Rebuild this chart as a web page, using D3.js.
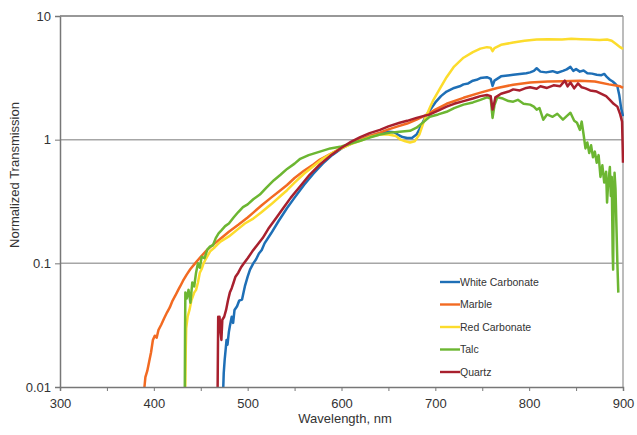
<!DOCTYPE html>
<html>
<head>
<meta charset="utf-8">
<script src="https://cdn.jsdelivr.net/npm/d3@7/dist/d3.min.js"></script>
<style>
  html, body { margin: 0; padding: 0; background: #fff; }
  svg { display: block; font-family: "Liberation Sans", Arial, sans-serif; }
</style>
</head>
<body>
<svg id="chart" width="637" height="435"></svg>
<script>
// ---------------- DATA ----------------
const seriesNames = ["White Carbonate", "Marble", "Red Carbonate", "Talc", "Quartz"];
const xTicks = [300, 400, 500, 600, 700, 800, 900];
const yTicks = [0.01, 0.1, 1, 10];
const yTickLabels = ["0.01", "0.1", "1", "10"];
const xTitle = "Wavelength, nm";
const yTitle = "Normalized Transmission";

// [wavelength nm, normalized transmission]
const whiteCarbonate = [
  [474,0.01],[474.5,0.013],[475.5,0.0166],[476.5,0.02],[477.5,0.024],[478.5,0.022],[480,0.028],[481,0.031],
  [483,0.037],[484.5,0.033],[486,0.042],[488.7,0.045],[491,0.05],[494,0.051],[496,0.06],[497,0.065],
  [500,0.078],[502.5,0.089],[506,0.1],[509,0.108],[512,0.12],[515,0.128],[518,0.145],[525,0.175],[533,0.22],
  [542,0.28],[550,0.34],[560,0.43],[570,0.53],[580,0.64],[590,0.75],[600,0.85],
  [610,0.93],[620,1.0],[630,1.07],[641,1.12],[650,1.16],[656,1.15],[660,1.1],[665,1.05],[670,1.03],
  [675,1.03],[680,1.1],[684,1.25],[687,1.4],[691,1.6],[694,1.72],[700,2.0],[706,2.25],[712,2.45],
  [720,2.62],[726,2.7],[730,2.8],[735,2.85],[740,3.0],[744,3.05],[748,3.15],[755,3.2],[759,3.1],[761,2.72],
  [763,3.0],[770,3.25],[777,3.3],[783,3.35],[790,3.4],[797,3.45],[801,3.5],[805,3.6],[808,3.78],
  [812,3.55],[818,3.5],[825,3.58],[830,3.48],[836,3.6],[840,3.7],[844,3.88],[847,3.6],[850,3.72],
  [854,3.55],[858,3.62],[862,3.45],[867,3.42],[872,3.35],[877,3.32],[880,3.4],[883,3.2],[886,3.05],
  [889,2.95],[892,2.82],[894,2.7],[896,2.3],[898,1.8],[900,1.55]
];
const marble = [
  [390,0.01],[391,0.012],[393,0.0135],[395,0.016],[397,0.019],[399,0.024],[401,0.026],[403,0.025],
  [405,0.029],[408,0.032],[411,0.036],[414,0.04],[417,0.044],[420,0.05],[423,0.055],[426,0.061],
  [428,0.065],[431,0.072],[435,0.081],[439,0.09],[444,0.1],[450,0.113],[457,0.129],[464,0.143],
  [471,0.158],[480,0.18],[490,0.205],[500,0.235],[506,0.257],[515,0.295],[525,0.34],[535,0.39],
  [542,0.43],[550,0.49],[560,0.56],[570,0.63],[577,0.69],[590,0.78],[600,0.86],[610,0.93],[620,1.0],
  [630,1.07],[641,1.14],[650,1.21],[660,1.28],[670,1.35],[680,1.45],[690,1.58],[700,1.75],[712,1.95],
  [730,2.18],[748,2.4],[766,2.62],[783,2.78],[801,2.9],[820,2.95],[836,2.97],[854,3.0],[870,2.95],
  [885,2.8],[897,2.7],[900,2.62]
];
const redCarbonate = [
  [433.5,0.01],[434,0.02],[434.5,0.03],[436,0.037],[438,0.042],[440,0.05],[443,0.058],[445,0.061],
  [447,0.07],[449,0.084],[451,0.09],[453,0.1],[455,0.107],[460,0.125],[465,0.135],[471,0.15],
  [480,0.165],[490,0.19],[497,0.21],[506,0.23],[515,0.26],[525,0.3],[535,0.35],[542,0.39],[550,0.45],
  [560,0.53],[570,0.61],[580,0.7],[590,0.78],[600,0.85],[610,0.92],[620,0.98],[630,1.05],[641,1.1],
  [650,1.1],[658,1.07],[663,1.0],[668,0.97],[673,0.95],[678,0.97],[683,1.1],[687,1.35],[691,1.6],
  [694,1.8],[698,2.1],[705,2.6],[712,3.2],[720,3.9],[730,4.6],[740,5.1],[748,5.45],[755,5.6],[759,5.55],
  [761,5.2],[763,5.5],[770,5.85],[783,6.1],[795,6.3],[808,6.45],[820,6.5],[835,6.45],[845,6.55],
  [855,6.5],[865,6.45],[875,6.4],[883,6.45],[888,6.3],[893,5.9],[897,5.6],[900,5.4]
];
const talc = [
  [433,0.01],[433.3,0.03],[433.6,0.058],[435,0.052],[437,0.061],[439,0.048],[441,0.07],[443,0.065],
  [445,0.084],[447,0.1],[449,0.092],[451,0.113],[454,0.11],[457,0.129],[460,0.137],[463,0.14],
  [466,0.16],[469,0.175],[472,0.185],[476,0.2],[480,0.21],[485,0.235],[490,0.26],[495,0.285],
  [500,0.3],[506,0.33],[513,0.36],[520,0.41],[528,0.47],[535,0.52],[542,0.58],[550,0.64],[556,0.7],
  [565,0.75],[577,0.8],[588,0.85],[600,0.88],[610,0.93],[620,0.98],[630,1.04],[641,1.1],[652,1.14],
  [662,1.16],[673,1.18],[680,1.25],[687,1.38],[694,1.53],[703,1.6],[712,1.68],[720,1.8],[730,1.92],
  [740,2.0],[748,2.1],[755,2.2],[759,2.15],[761,1.5],[763,1.9],[766,2.2],[772,2.15],[778,2.05],
  [783,2.03],[788,2.1],[794,1.95],[801,1.92],[805,1.85],[808,1.75],[811,1.8],[815,1.45],[819,1.6],
  [825,1.53],[830,1.62],[836,1.45],[840,1.55],[844,1.65],[848,1.42],[851,1.37],[854,1.2],[856,1.4],
  [858,1.1],[860,0.85],[862,0.95],[864,0.78],[866,0.9],[868,0.72],[870,0.8],[872,0.65],[874,0.75],
  [876,0.5],[878,0.62],[880,0.45],[882,0.55],[883,0.31],[884,0.42],[886,0.6],[887,0.35],[888,0.5],
  [889,0.12],[889.5,0.089],[890,0.3],[891,0.54],[892,0.4],[893,0.2],[894,0.1],[895,0.058]
];
const quartz = [
  [468,0.01],[468.3,0.02],[468.6,0.037],[469.5,0.03],[470,0.037],[471,0.028],[472,0.024],[473,0.035],
  [475,0.037],[477,0.042],[479,0.05],[481,0.058],[483,0.063],[485,0.07],[487,0.078],[490,0.084],
  [493,0.093],[496,0.1],[500,0.11],[505,0.125],[510,0.14],[516,0.16],[522,0.19],[530,0.23],
  [538,0.28],[546,0.34],[556,0.42],[566,0.52],[577,0.63],[588,0.74],[600,0.86],[610,0.96],[620,1.05],
  [630,1.13],[641,1.2],[650,1.28],[662,1.37],[670,1.42],[680,1.5],[687,1.55],[694,1.6],[703,1.72],
  [712,1.85],[720,1.95],[730,2.05],[740,2.15],[748,2.25],[755,2.3],[759,2.25],[761,1.75],[762,1.85],
  [764,2.2],[770,2.35],[778,2.45],[783,2.55],[790,2.5],[797,2.62],[801,2.65],[808,2.58],[812,2.7],
  [819,2.62],[826,2.75],[833,2.7],[838,3.0],[841,2.7],[844,2.9],[848,2.6],[852,2.85],[856,2.65],
  [860,2.6],[865,2.5],[872,2.45],[877,2.35],[882,2.25],[886,2.1],[890,1.95],[894,1.85],[897,1.6],
  [899,1.4],[899.6,0.9],[900,0.65]
];
const seriesData = [whiteCarbonate, marble, redCarbonate, talc, quartz];
const seriesColors = ["#1e6fb6", "#f26a22", "#fcdc2c", "#6cb632", "#a8202e"];

// ---------------- CHART ----------------
const svg = d3.select("#chart");
const pLeft = 60, pRight = 623, pTop = 16, pBottom = 387;

const x = d3.scaleLinear().domain([300, 900]).range([pLeft, pRight]);
const y = d3.scaleLog().domain([0.01, 10]).range([pBottom, pTop]);

svg.append("defs").append("clipPath").attr("id", "plotclip")
  .append("rect").attr("x", pLeft).attr("y", pTop - 2).attr("width", pRight - pLeft + 1).attr("height", pBottom - pTop + 2);

// gridlines
svg.append("g").selectAll("line").data(yTicks.slice(1)).join("line")
  .attr("x1", pLeft).attr("x2", pRight)
  .attr("y1", d => y(d)).attr("y2", d => y(d))
  .attr("stroke", "#a6a6a6").attr("stroke-width", 1.5);
// right border
svg.append("line").attr("x1", pRight).attr("x2", pRight).attr("y1", pTop).attr("y2", pBottom)
  .attr("stroke", "#a6a6a6").attr("stroke-width", 1.5);

// lines
const line = d3.line().x(d => x(d[0])).y(d => y(d[1]));
const gLines = svg.append("g").attr("clip-path", "url(#plotclip)");
seriesData.forEach((s, i) => {
  gLines.append("path").datum(s)
    .attr("fill", "none").attr("stroke", seriesColors[i])
    .attr("stroke-width", 2.5).attr("stroke-linejoin", "round")
    .attr("d", line);
});

// axes
const xAxis = d3.axisBottom(x)
  .tickValues(d3.range(300, 901, 50))
  .tickSize(4)
  .tickFormat(d => xTicks.includes(d) ? String(d) : "");
const gx = svg.append("g").attr("transform", `translate(0,${pBottom})`).call(xAxis);
gx.select(".domain").attr("stroke", "#777").attr("stroke-width", 1.5);
gx.selectAll(".tick line").attr("stroke", "#777");
gx.selectAll("text").attr("font-size", 13).attr("fill", "#333").attr("dy", "1.05em")
  .attr("font-family", "Liberation Sans, Arial, sans-serif");

const yAxis = d3.axisLeft(y)
  .tickValues(yTicks)
  .tickSize(5)
  .tickFormat((d, i) => yTickLabels[i]);
const gy = svg.append("g").attr("transform", `translate(${pLeft},0)`).call(yAxis);
gy.select(".domain").attr("stroke", "#777").attr("stroke-width", 1.5);
gy.selectAll(".tick line").attr("stroke", "#777");
gy.selectAll("text").attr("font-size", 13).attr("fill", "#333").attr("x", -9)
  .attr("font-family", "Liberation Sans, Arial, sans-serif");

// top border over line 10
svg.append("line").attr("x1", pLeft).attr("x2", pRight).attr("y1", pTop).attr("y2", pTop)
  .attr("stroke", "#8c8c8c").attr("stroke-width", 1.5);

// titles
svg.append("text").attr("x", 345).attr("y", 423).attr("text-anchor", "middle")
  .attr("font-size", 13).attr("fill", "#333").text(xTitle);
svg.append("text").attr("transform", "translate(19,175) rotate(-90)").attr("text-anchor", "middle")
  .attr("font-size", 13).attr("fill", "#333").text(yTitle);

// legend
const lg = svg.append("g");
seriesNames.forEach((n, i) => {
  const yy = 282 + i * 22.5;
  lg.append("line").attr("x1", 440).attr("x2", 460).attr("y1", yy).attr("y2", yy)
    .attr("stroke", seriesColors[i]).attr("stroke-width", 2.4);
  lg.append("text").attr("x", 460).attr("y", yy + 3.8)
    .attr("font-size", 10.5).attr("fill", "#333").text(n);
});
</script>
</body>
</html>
